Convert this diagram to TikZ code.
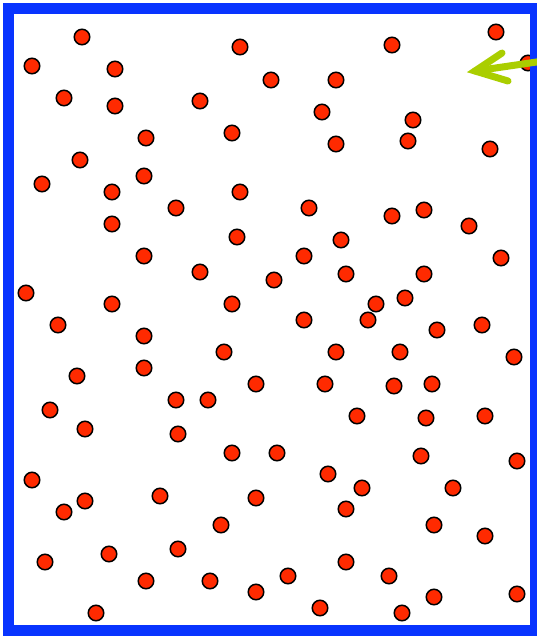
\documentclass[tikz,border=0pt]{standalone}
\usepackage{tikz}
\usepackage{xcolor}
\usetikzlibrary{arrows.meta}
\definecolor{dotred}{RGB}{255,42,0}
\definecolor{wall}{RGB}{8,52,255}
\definecolor{lime}{RGB}{170,206,0}

\begin{document}
\begin{tikzpicture}[x=1pt,y=-1pt,
    dot/.style={circle,draw=black,fill=dotred,line width=1.5pt,
                minimum size=15.5pt,inner sep=0pt},
    box/.style={draw=wall,line width=11pt},
    pointer/.style={lime,line width=7pt,line cap=round,line join=miter}]

    \useasboundingbox (0,0) rectangle (537,637);

    % particles
    \foreach \px/\py [count=\i] in {
      82/37, 32/66, 115/69, 64/98, 115/106, 240/47, 271/80, 200/101,
      146/138, 232/133, 80/160, 42/184, 112/192, 144/176, 240/192, 176/208,
      112/224, 237/237, 144/256, 200/272, 26/293, 112/304, 232/304, 274/280,
      58/325, 144/336, 144/368, 224/352, 77/376, 176/400, 208/400, 256/384,
      50/410, 85/429, 178/434, 232/453, 277/453, 32/480, 64/512, 85/501,
      160/496, 256/498, 221/525, 45/562, 109/554, 178/549, 146/581, 210/581,
      256/592, 288/576, 96/613,
      392/45, 496/32, 528/63, 336/80, 322/112, 413/120, 336/144, 408/141,
      490/149, 309/208, 392/216, 424/210, 469/226, 341/240, 304/256, 501/258,
      346/274, 424/274, 376/304, 405/298, 368/320, 304/320, 437/330, 482/325,
      336/352, 400/352, 514/357, 325/384, 394/386, 432/384, 357/416, 426/418,
      485/416, 421/456, 517/461, 328/474, 362/488, 453/488, 346/509, 434/525,
      485/536, 346/562, 389/576, 320/608, 402/613, 434/597, 517/594}
      \node[dot] (d\i) at (\px,\py) {};

    % container
    \draw[box] (8.5,8) rectangle (535.5,630.5);

    % incoming particle direction
    \coordinate (entry) at (540,61.5);
    \coordinate (tip) at (475,71);
    \coordinate (barbup) at (502,53);
    \coordinate (barbdown) at (508,81);
    \draw[pointer] (entry) -- (tip);
    \draw[pointer] (barbup) -- (tip) -- (barbdown);
\end{tikzpicture}
\end{document}
